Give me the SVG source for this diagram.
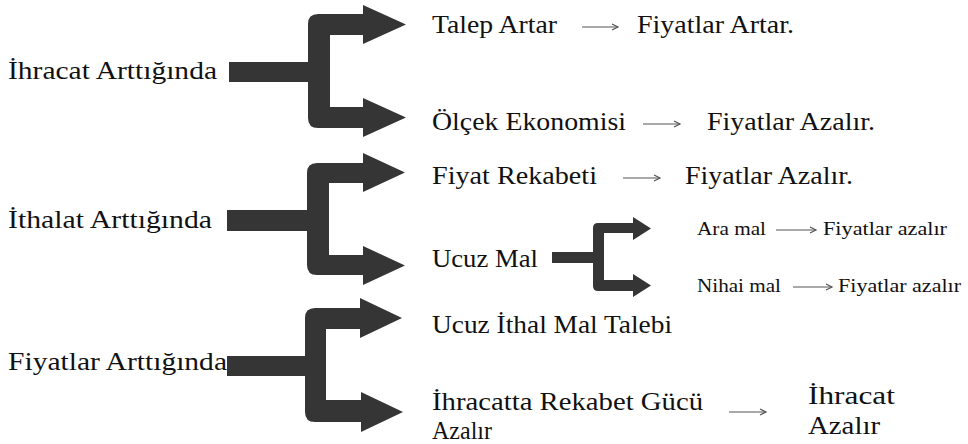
<svg xmlns="http://www.w3.org/2000/svg" width="968" height="444" viewBox="0 0 968 444">
<style>
.t{font-family:"Liberation Serif","DejaVu Serif",serif;font-size:26px;fill:#111}
.s{font-family:"Liberation Serif","DejaVu Serif",serif;font-size:18px;fill:#111}
.br{fill:#353535}
.ar{fill:none;stroke:#555;stroke-width:1.2}
</style>
<defs>
<marker id="oh" markerWidth="10" markerHeight="10" refX="7" refY="4" orient="auto" markerUnits="userSpaceOnUse">
<path d="M1,1 L7,4 L1,7" fill="none" stroke="#555" stroke-width="1.2"/>
</marker>
</defs>
<rect width="968" height="444" fill="#fff"/>
<g id="connectors">
<path class="br" d="M229 62 H308 V24 Q308 14 318 14 H363 V5 L406 24.5 L363 44 V35 H330 V107 H363 V98 L406 117.5 L363 137 V128 H318 Q308 128 308 118 V82 H229 Z"/>
<path class="br" d="M227 210 H307 V173 Q307 163 317 163 H363 V153 L405 172.5 L363 192 V183 H329 V255 H363 V246 L405 265.5 L363 285 V275 H317 Q307 275 307 265 V231 H227 Z"/>
<path class="br" d="M227 356 H305 V318 Q305 308 315 308 H360 V298 L402 318 L360 338 V329 H326 V400 H361 V392 L403 412 L361 432 V422 H315 Q305 422 305 412 V376 H227 Z"/>
<path class="br" d="M552 252 H593 V228 Q593 223 598 223 H633 V217 L651 228.5 L633 240 V233 H604 V280 H633 V274 L651 285.5 L633 297 V291 H598 Q593 291 593 286 V263 H552 Z"/>
<line class="ar" x1="582" y1="27" x2="618" y2="27" marker-end="url(#oh)"/>
<line class="ar" x1="643" y1="124" x2="680" y2="124" marker-end="url(#oh)"/>
<line class="ar" x1="623" y1="178" x2="660" y2="178" marker-end="url(#oh)"/>
<line class="ar" x1="776" y1="230" x2="816" y2="230" marker-end="url(#oh)"/>
<line class="ar" x1="793" y1="287" x2="832" y2="287" marker-end="url(#oh)"/>
<line class="ar" x1="729" y1="412" x2="766" y2="412" marker-end="url(#oh)"/>
</g>
<g id="n-ihracat"><text class="t" x="8" y="79" textLength="209" lengthAdjust="spacingAndGlyphs">İhracat Arttığında</text></g>
<g id="n-ithalat"><text class="t" x="8" y="228" textLength="204" lengthAdjust="spacingAndGlyphs">İthalat Arttığında</text></g>
<g id="n-fiyatlar"><text class="t" x="8" y="370" textLength="219" lengthAdjust="spacingAndGlyphs">Fiyatlar Arttığında</text></g>
<g id="n-talep"><text class="t" x="432" y="33" textLength="125" lengthAdjust="spacingAndGlyphs">Talep Artar</text><text class="t" x="637" y="33" textLength="157" lengthAdjust="spacingAndGlyphs">Fiyatlar Artar.</text></g>
<g id="n-olcek"><text class="t" x="432" y="130" textLength="194" lengthAdjust="spacingAndGlyphs">Ölçek Ekonomisi</text><text class="t" x="707" y="130" textLength="168" lengthAdjust="spacingAndGlyphs">Fiyatlar Azalır.</text></g>
<g id="n-rekabet"><text class="t" x="432" y="184" textLength="165" lengthAdjust="spacingAndGlyphs">Fiyat Rekabeti</text><text class="t" x="685" y="184" textLength="168" lengthAdjust="spacingAndGlyphs">Fiyatlar Azalır.</text></g>
<g id="n-ucuzmal"><text class="t" x="432" y="267" textLength="106" lengthAdjust="spacingAndGlyphs">Ucuz Mal</text></g>
<g id="n-aramal"><text class="s" x="697" y="235" textLength="69" lengthAdjust="spacingAndGlyphs">Ara mal</text><text class="s" x="823" y="235" textLength="124" lengthAdjust="spacingAndGlyphs">Fiyatlar azalır</text></g>
<g id="n-nihai"><text class="s" x="697" y="292" textLength="84" lengthAdjust="spacingAndGlyphs">Nihai mal</text><text class="s" x="838" y="292" textLength="123" lengthAdjust="spacingAndGlyphs">Fiyatlar azalır</text></g>
<g id="n-ucuzithal"><text class="t" x="432" y="333" textLength="240" lengthAdjust="spacingAndGlyphs">Ucuz İthal Mal Talebi</text></g>
<g id="n-ihracatta"><text class="t" x="432" y="410" textLength="271" lengthAdjust="spacingAndGlyphs">İhracatta Rekabet Gücü</text><text class="t" x="432" y="439" textLength="60" lengthAdjust="spacingAndGlyphs">Azalır</text></g>
<g id="n-ihracatazalir"><text class="t" x="808" y="404" textLength="87" lengthAdjust="spacingAndGlyphs">İhracat</text><text class="t" x="808" y="434" textLength="72" lengthAdjust="spacingAndGlyphs">Azalır</text></g>
</svg>
